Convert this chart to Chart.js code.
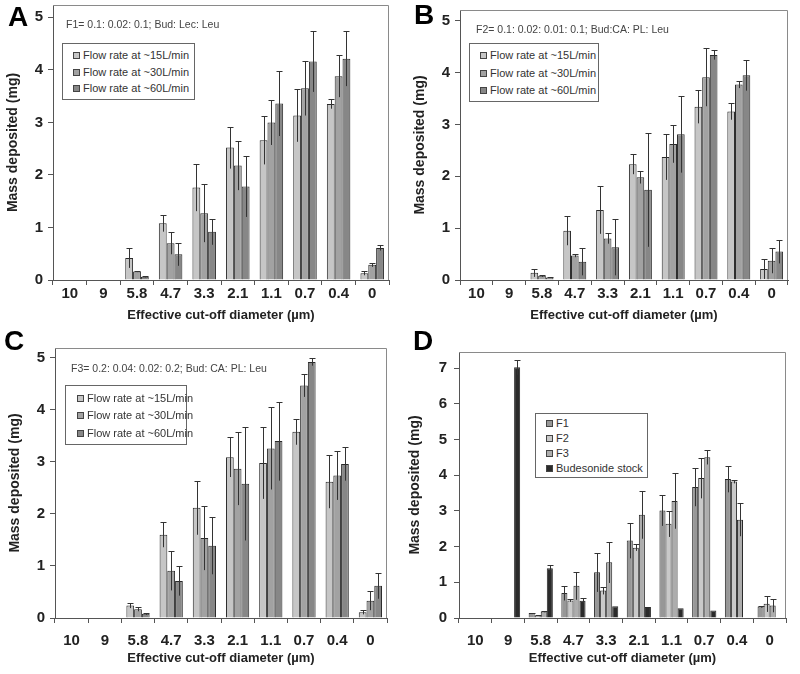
<!DOCTYPE html>
<html>
<head>
<meta charset="utf-8">
<script src="https://cdn.jsdelivr.net/npm/chart.js@4.4.0/dist/chart.umd.min.js"></script>
<style>
body { margin:0; background:#fff; width:800px; height:674px; position:relative; overflow:hidden; font-family: Arial, "Liberation Sans", sans-serif; }
canvas { position:absolute; }
.letter { position:absolute; font-weight:bold; font-size:28px; line-height:1; color:#000; }
.note { position:absolute; font-size:10.5px; line-height:13px; color:#444; white-space:nowrap; }
.legend { position:absolute; box-sizing:border-box; border:1px solid #666; background:#fff; display:flex; flex-direction:column; justify-content:space-evenly; font-size:11px; color:#333; white-space:nowrap; }
.legend .sw { display:inline-block; width:5px; height:5px; border:1px solid #444; margin-right:3px; vertical-align:0px; }
</style>
</head>
<body>
<canvas id="cA" width="400" height="330" style="left:0;top:0"></canvas>
<canvas id="cB" width="400" height="330" style="left:400px;top:0"></canvas>
<canvas id="cC" width="400" height="344" style="left:0;top:330px"></canvas>
<canvas id="cD" width="400" height="344" style="left:400px;top:330px"></canvas>

<div class="letter" style="left:8px;top:3px">A</div>
<div class="letter" style="left:414px;top:1px">B</div>
<div class="letter" style="left:4px;top:327px">C</div>
<div class="letter" style="left:413px;top:327px">D</div>

<div class="note" style="left:66px;top:18px">F1= 0.1: 0.02: 0.1; Bud: Lec: Leu</div>
<div class="note" style="left:476px;top:23px">F2= 0.1: 0.02: 0.01: 0.1; Bud:CA: PL: Leu</div>
<div class="note" style="left:71px;top:362px">F3= 0.2: 0.04: 0.02: 0.2; Bud: CA: PL: Leu</div>

<div class="legend" id="legA" style="left:62px;top:43px;width:133px;height:57px;padding-left:10px"></div>
<div class="legend" id="legB" style="left:469px;top:43px;width:130px;height:59px;padding-left:10px"></div>
<div class="legend" id="legC" style="left:65px;top:385px;width:122px;height:60px;padding-left:11px"></div>
<div class="legend" id="legD" style="left:535px;top:413px;width:113px;height:65px;padding-left:10px"></div>

<script>
// cut-off diameters (µm)
var categories = ['10', '9', '5.8', '4.7', '3.3', '2.1', '1.1', '0.7', '0.4', '0'];
var flowNames = ['Flow rate at ~15L/min', 'Flow rate at ~30L/min', 'Flow rate at ~60L/min'];
var formNames = ['F1', 'F2', 'F3', 'Budesonide stock'];

// A: F1
var a15 = [0, 0, 0.42, 1.08, 1.76, 2.52, 2.66, 3.13, 3.35, 0.13];
var a15Err = [0, 0, 0.19, 0.16, 0.45, 0.40, 0.46, 0.50, 0.09, 0.04];
var a30 = [0, 0, 0.16, 0.70, 1.27, 2.18, 3.00, 3.65, 3.88, 0.29];
var a30Err = [0, 0, 0.01, 0.21, 0.55, 0.47, 0.43, 0.52, 0.40, 0.04];
var a60 = [0, 0, 0.06, 0.49, 0.92, 1.78, 3.36, 4.16, 4.21, 0.61];
var a60Err = [0, 0, 0.01, 0.22, 0.25, 0.58, 0.62, 0.58, 0.52, 0.05];

// B: F2
var b15 = [0, 0, 0.14, 0.95, 1.35, 2.23, 2.37, 3.34, 3.25, 0.21];
var b15Err = [0, 0, 0.08, 0.28, 0.46, 0.19, 0.44, 0.32, 0.16, 0.19];
var b30 = [0, 0, 0.08, 0.47, 0.80, 1.98, 2.62, 3.91, 3.77, 0.37];
var b30Err = [0, 0, 0.02, 0.03, 0.10, 0.12, 0.36, 0.56, 0.07, 0.24];
var b60 = [0, 0, 0.05, 0.35, 0.63, 1.74, 2.81, 4.34, 3.95, 0.55];
var b60Err = [0, 0, 0.01, 0.26, 0.54, 1.10, 0.74, 0.09, 0.30, 0.23];

// C: F3
var c15 = [0, 0, 0.24, 1.60, 2.12, 3.09, 2.98, 3.58, 2.62, 0.11];
var c15Err = [0, 0, 0.05, 0.24, 0.52, 0.38, 0.69, 0.25, 0.51, 0.04];
var c30 = [0, 0, 0.17, 0.91, 1.54, 2.87, 3.26, 4.47, 2.74, 0.33];
var c30Err = [0, 0, 0.04, 0.38, 0.62, 0.70, 0.79, 0.22, 0.47, 0.18];
var c60 = [0, 0, 0.08, 0.71, 1.39, 2.58, 3.40, 4.92, 2.96, 0.62];
var c60Err = [0, 0, 0.02, 0.28, 0.55, 1.09, 0.76, 0.07, 0.32, 0.25];

// D: formulations at 30L/min vs stock
var dF1 = [0, 0, 0.14, 0.70, 1.28, 2.17, 3.01, 3.67, 3.89, 0.32];
var dF1Err = [0, 0, 0.01, 0.21, 0.55, 0.50, 0.43, 0.54, 0.37, 0.03];
var dF2 = [0, 0, 0.07, 0.49, 0.77, 1.97, 2.64, 3.92, 3.82, 0.40];
var dF2Err = [0, 0, 0.01, 0.04, 0.11, 0.09, 0.37, 0.57, 0.05, 0.23];
var dF3 = [0, 0, 0.18, 0.90, 1.56, 2.89, 3.28, 4.50, 2.75, 0.35];
var dF3Err = [0, 0, 0.02, 0.39, 0.58, 0.67, 0.78, 0.20, 0.46, 0.19];
var dBud = [0, 7.02, 1.39, 0.48, 0.33, 0.31, 0.27, 0.21, 0, 0];
var dBudErr = [0, 0.21, 0.10, 0.07, 0, 0, 0, 0, 0, 0];

var flowColors = ['#c6c6c6', '#a2a2a2', '#878787'];
var formColors = ['#979797', '#c9c9c9', '#adadad', '#2b2b2b'];

var framePlugin = {
  id: 'frame',
  afterDraw: function(chart) {
    var a = chart.chartArea, c = chart.ctx;
    c.save();
    c.strokeStyle = '#8a8a8a';
    c.lineWidth = 1;
    c.beginPath();
    c.moveTo(a.left, Math.round(a.top) + 0.5);
    c.lineTo(Math.round(a.right) - 0.5, Math.round(a.top) + 0.5);
    c.lineTo(Math.round(a.right) - 0.5, a.bottom);
    c.stroke();
    c.restore();
  }
};

var errorPlugin = {
  id: 'errorBars',
  afterDatasetsDraw: function(chart) {
    var c = chart.ctx, y = chart.scales.y;
    c.save();
    c.strokeStyle = '#333';
    c.lineWidth = 1;
    chart.data.datasets.forEach(function(ds, i) {
      chart.getDatasetMeta(i).data.forEach(function(bar, j) {
        var e = ds.errors[j], v = ds.data[j];
        if (!e) return;
        var x = Math.round(bar.x) + 0.5;
        var top = Math.round(y.getPixelForValue(v + e)) + 0.5;
        var bot = y.getPixelForValue(Math.max(0, v - e));
        c.beginPath();
        c.moveTo(x, bot);
        c.lineTo(x, top);
        c.moveTo(x - 3, top);
        c.lineTo(x + 3, top);
        c.stroke();
      });
    });
    c.restore();
  }
};

function makePanel(id, series, errs, colors, names, p) {
  var datasets = [];
  for (var i = 0; i < series.length; i++) {
    datasets.push({
      label: names[i],
      data: series[i],
      errors: errs[i],
      backgroundColor: colors[i],
      borderColor: '#2a2a2a',
      borderWidth: 1,
      categoryPercentage: p.cat,
      barPercentage: 1
    });
  }
  new Chart(document.getElementById(id), {
    type: 'bar',
    data: { labels: categories, datasets: datasets },
    options: {
      responsive: false,
      animation: false,
      layout: { padding: { left: 0, top: p.top, right: p.right, bottom: 0 } },
      plugins: { legend: { display: false }, tooltip: { enabled: false } },
      scales: {
        x: {
          grid: { offset: true, drawOnChartArea: false, tickLength: 5, color: '#555' },
          border: { color: '#555' },
          ticks: { font: { size: 15, weight: 'bold', family: 'Arial' }, color: '#222', padding: p.xPad, autoSkip: false, maxRotation: 0 },
          title: { display: true, text: 'Effective cut-off diameter (µm)', font: { size: 13, weight: 'bold', family: 'Arial' }, color: '#222', padding: { top: 0, bottom: p.xTitlePad } },
          afterFit: function(s) { s.height = p.xH; s.paddingLeft = 0; s.paddingRight = 0; }
        },
        y: {
          min: 0,
          max: p.max,
          grid: { drawOnChartArea: false, tickLength: 5, color: '#555' },
          border: { color: '#555' },
          ticks: { stepSize: 1, includeBounds: false, font: { size: 15, weight: 'bold', family: 'Arial' }, color: '#222', padding: p.yPad },
          title: { display: true, text: 'Mass deposited (mg)', font: { size: 14, weight: 'bold', family: 'Arial' }, color: '#222', padding: { top: p.yTitlePad, bottom: 0 } },
          afterFit: function(s) { s.width = p.yW; s.paddingTop = 0; s.paddingBottom = 0; }
        }
      }
    },
    plugins: [framePlugin, errorPlugin]
  });
}

function makeLegend(id, names, colors) {
  var box = document.getElementById(id);
  for (var i = 0; i < names.length; i++) {
    var row = document.createElement('div');
    row.innerHTML = '<span class="sw" style="background:' + colors[i] + '"></span>' + names[i];
    box.appendChild(row);
  }
}

makePanel('cA', [a15, a30, a60], [a15Err, a30Err, a60Err], flowColors, flowNames,
  { yW: 53, right: 11, top: 5, xH: 50, max: 5.234, xPad: 0, xTitlePad: 7, yPad: 5, yTitlePad: 5, cat: 0.7 });
makePanel('cB', [b15, b30, b60], [b15Err, b30Err, b60Err], flowColors, flowNames,
  { yW: 60, right: 12, top: 10, xH: 50, max: 5.206, xPad: 0, xTitlePad: 7, yPad: 5, yTitlePad: 11.6, cat: 0.7 });
makePanel('cC', [c15, c30, c60], [c15Err, c30Err, c60Err], flowColors, flowNames,
  { yW: 55, right: 13, top: 18, xH: 56, max: 5.19, xPad: 9, xTitlePad: 8, yPad: 5, yTitlePad: 6.6, cat: 0.7 });
makePanel('cD', [dF1, dF2, dF3, dBud], [dF1Err, dF2Err, dF3Err, dBudErr], formColors, formNames,
  { yW: 59, right: 14, top: 22, xH: 56, max: 7.45, xPad: 9, xTitlePad: 8, yPad: 7, yTitlePad: 6.6, cat: 0.74 });

makeLegend('legA', flowNames, flowColors);
makeLegend('legB', flowNames, flowColors);
makeLegend('legC', flowNames, flowColors);
makeLegend('legD', formNames, formColors);
</script>
</body>
</html>
